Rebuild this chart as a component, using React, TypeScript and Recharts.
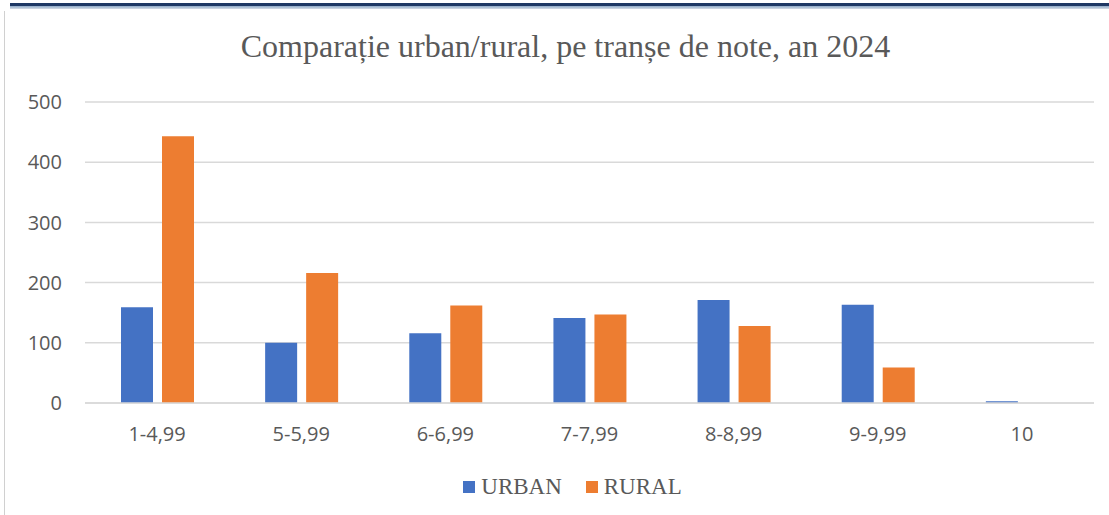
import React from "react";
import { BarChart, Bar, XAxis, YAxis, CartesianGrid, Legend } from "recharts";

const categories = ["1-4,99", "5-5,99", "6-6,99", "7-7,99", "8-8,99", "9-9,99", "10"];
const urban = [159, 100, 116, 141, 171, 163, 3];
const rural = [443, 216, 162, 147, 128, 59, 0];
const yTicks = [0, 100, 200, 300, 400, 500];
const title = "Comparație urban/rural, pe tranșe de note, an 2024";
const seriesNames = ["URBAN", "RURAL"];
const colors = ["#4472C4", "#ED7D31"];

const data = categories.map((c, i) => ({ cat: c, URBAN: urban[i], RURAL: rural[i] }));

const renderLegend = (props: any) => {
  const payload = [...(props.payload || [])].sort(
    (a: any, b: any) => seriesNames.indexOf(a.value) - seriesNames.indexOf(b.value)
  );
  return (
    <div style={{ display: "flex", justifyContent: "center", alignItems: "center", fontFamily: "'Liberation Serif', 'Times New Roman', serif", fontSize: 23, color: "#595959", lineHeight: "30px" }}>
      {payload.map((p: any, i: number) => (
        <div key={i} style={{ display: "flex", alignItems: "center", marginLeft: i === 0 ? 0 : 24 }}>
          <span style={{ display: "inline-block", width: 12, height: 12, background: p.color, marginRight: 6 }} />
          <span>{p.value}</span>
        </div>
      ))}
    </div>
  );
};

export default function App() {
  return (
    <div style={{ position: "absolute", left: 0, top: 0, width: 1109, height: 515, background: "#fff", overflow: "hidden" }}>
      <div style={{ position: "absolute", left: 10, top: 3, width: 1099, height: 3, background: "#1F3864" }} />
      <div style={{ position: "absolute", left: 10, top: 6, width: 1099, height: 3, background: "linear-gradient(#8EA9C8, #D6DCE4)" }} />
      <div style={{ position: "absolute", left: 4, top: 11, width: 1, height: 504, background: "#D0D0D0" }} />
      <div style={{ position: "absolute", left: 11, top: 28, width: 1109, textAlign: "center", fontFamily: "'Liberation Serif', 'Times New Roman', serif", fontSize: 32, color: "#595959" }}>
        {title}
      </div>
      <div style={{ position: "absolute", left: 0, top: 0 }}>
        <BarChart width={1109} height={515} data={data} margin={{ top: 102, right: 15, bottom: 52, left: 0 }} barCategoryGap={36} barGap={9}>
          <CartesianGrid vertical={false} stroke="#D9D9D9" strokeWidth={1.5} />
          <XAxis dataKey="cat" height={30} axisLine={{ stroke: "#D9D9D9", strokeWidth: 1.5 }} tickLine={false} tickMargin={18} tick={{ fill: "#595959", fontSize: 20, fontFamily: "'Open Sans', sans-serif" }} interval={0} />
          <YAxis domain={[0, 500]} ticks={yTicks} width={85} axisLine={false} tickLine={false} tickMargin={17} tick={{ fill: "#595959", fontSize: 20, fontFamily: "'Open Sans', sans-serif" }} />
          <Legend content={renderLegend} verticalAlign="bottom" align="center" wrapperStyle={{ top: 472, left: 18, width: 1109, height: 30 }} />
          <Bar dataKey="URBAN" name={seriesNames[0]} fill={colors[0]} isAnimationActive={false} />
          <Bar dataKey="RURAL" name={seriesNames[1]} fill={colors[1]} isAnimationActive={false} />
        </BarChart>
      </div>
    </div>
  );
}
